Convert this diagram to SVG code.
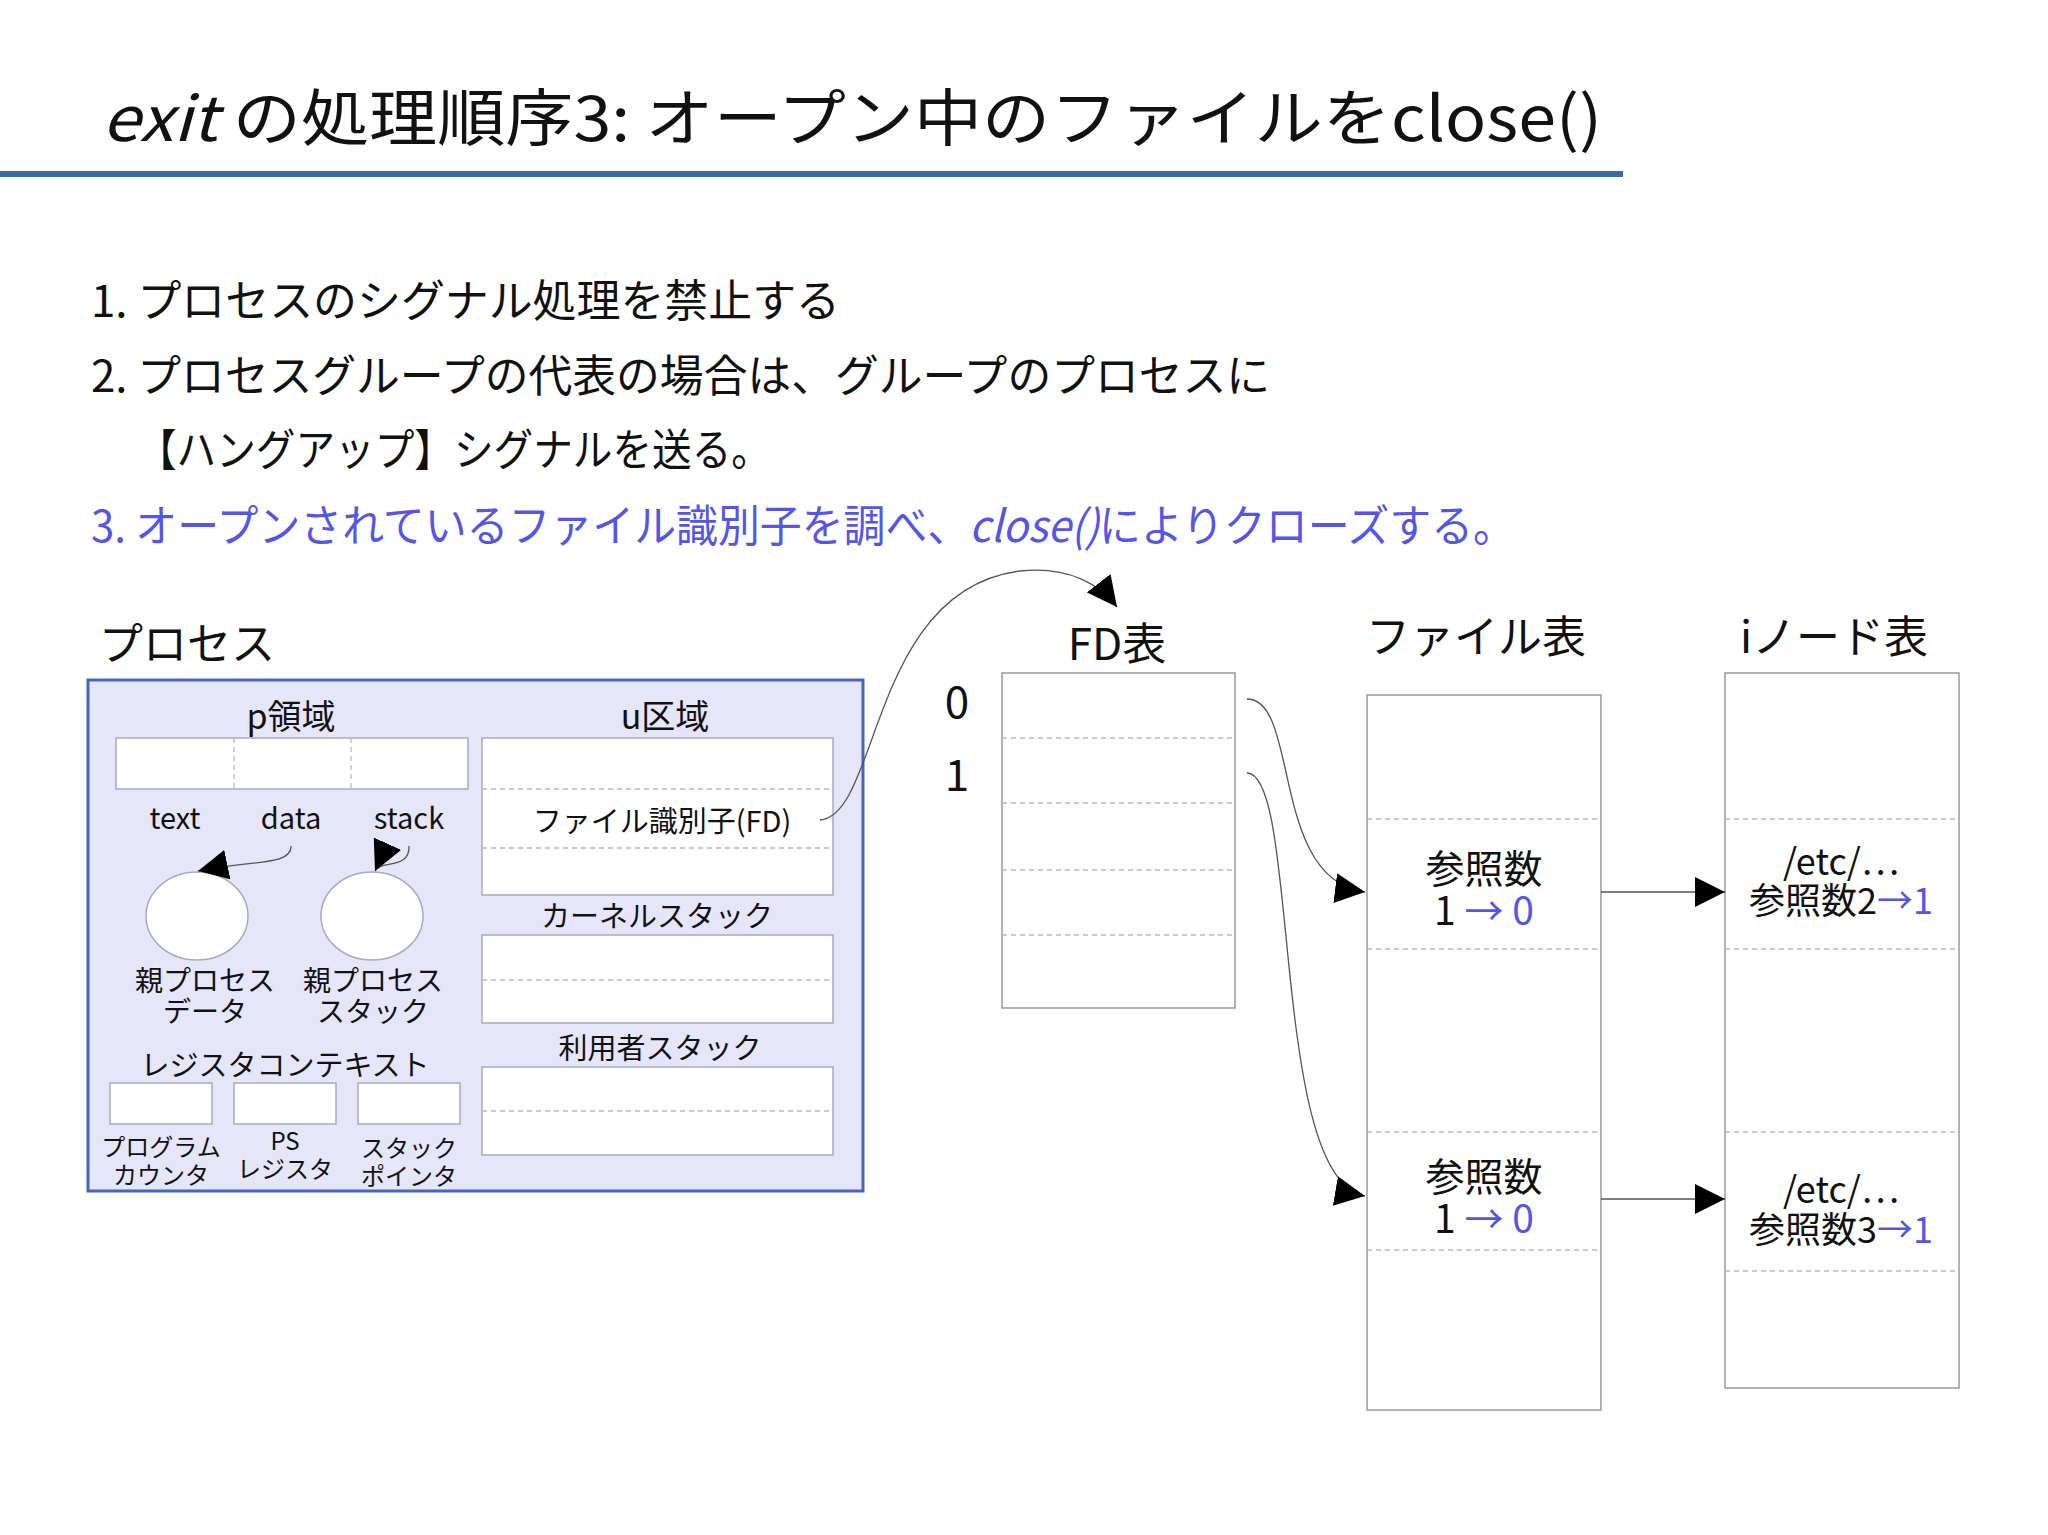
<svg xmlns="http://www.w3.org/2000/svg" width="2048" height="1535" viewBox="0 0 2048 1535">
<defs>
<style>
text{font-family:"Noto Sans CJK JP","Liberation Sans",sans-serif;fill:#111}
.b{fill:#5555e8}
.cell{fill:#fff;stroke:#aab;stroke-width:1.5}
.tbl{fill:#fff;stroke:#999;stroke-width:1.5}
.dash{stroke:#bbb;stroke-width:1.3;stroke-dasharray:5 4;fill:none}
.con{fill:none;stroke:#555;stroke-width:1.3}
.m{text-anchor:middle}
</style>
<marker id="ah" viewBox="0 0 10 10" refX="10" refY="5" markerWidth="30" markerHeight="30" markerUnits="userSpaceOnUse" orient="auto"><path d="M0,0 L10,5 L0,10 z" fill="#000"/></marker>
</defs>
<rect width="2048" height="1535" fill="#fff"/>
<g id="title">
<text x="102" y="141" font-size="62" textLength="1500" lengthAdjust="spacingAndGlyphs"><tspan font-style="italic">exit</tspan> の処理順序3: オープン中のファイルをclose()</text>
<rect x="0" y="171" width="1623" height="6" fill="#3d6aa6"/>
</g>
<g id="list" font-size="44">
<text x="91" y="317" font-size="44" textLength="749" lengthAdjust="spacingAndGlyphs">1. プロセスのシグナル処理を禁止する</text>
<text x="91" y="392" font-size="44" textLength="1179" lengthAdjust="spacingAndGlyphs">2. プロセスグループの代表の場合は、グループのプロセスに</text>
<text x="137" y="466" font-size="44" textLength="634" lengthAdjust="spacingAndGlyphs">【ハングアップ】シグナルを送る。</text>
<text x="91" y="542" font-size="44" class="b" textLength="1424" lengthAdjust="spacingAndGlyphs">3. オープンされているファイル識別子を調べ、<tspan font-style="italic" class="b">close()</tspan>によりクローズする。</text>
</g>
<g id="process">
<text x="99" y="660" font-size="44">プロセス</text>
<rect x="88" y="680" width="775" height="511" fill="#e6e6fa" stroke="#4466bb" stroke-width="3"/>
<text x="291" y="729" font-size="34" class="m">p領域</text>
<rect x="116" y="738" width="352" height="51" class="cell"/>
<line x1="234" y1="738" x2="234" y2="789" class="dash"/>
<line x1="351" y1="738" x2="351" y2="789" class="dash"/>
<text x="175" y="829" font-size="29" class="m">text</text>
<text x="291" y="829" font-size="29" class="m">data</text>
<text x="409" y="829" font-size="29" class="m">stack</text>
<ellipse cx="197" cy="916" rx="51" ry="44" class="cell"/>
<ellipse cx="372" cy="916" rx="51" ry="44" class="cell"/>
<text x="205" y="991" font-size="28" class="m">親プロセス</text>
<text x="205" y="1022" font-size="28" class="m">データ</text>
<text x="373" y="991" font-size="28" class="m">親プロセス</text>
<text x="373" y="1022" font-size="28" class="m">スタック</text>
<text x="285" y="1076" font-size="29" class="m">レジスタコンテキスト</text>
<rect x="110" y="1083" width="102" height="41" class="cell"/>
<rect x="234" y="1083" width="102" height="41" class="cell"/>
<rect x="358" y="1083" width="102" height="41" class="cell"/>
<text x="161" y="1156" font-size="24" class="m">プログラム</text>
<text x="161" y="1184" font-size="24" class="m">カウンタ</text>
<text x="285" y="1150" font-size="24" class="m">PS</text>
<text x="285" y="1178" font-size="24" class="m">レジスタ</text>
<text x="409" y="1157" font-size="24" class="m">スタック</text>
<text x="409" y="1185" font-size="24" class="m">ポインタ</text>
<text x="665" y="729" font-size="34" class="m">u区域</text>
<rect x="482" y="738" width="351" height="157" class="cell"/>
<line x1="482" y1="789" x2="833" y2="789" class="dash"/>
<line x1="482" y1="848" x2="833" y2="848" class="dash"/>
<text x="662" y="832" font-size="29" class="m">ファイル識別子(FD)</text>
<text x="657" y="927" font-size="29" class="m">カーネルスタック</text>
<rect x="482" y="935" width="351" height="88" class="cell"/>
<line x1="482" y1="980" x2="833" y2="980" class="dash"/>
<text x="660" y="1059" font-size="29" class="m">利用者スタック</text>
<rect x="482" y="1067" width="351" height="88" class="cell"/>
<line x1="482" y1="1111" x2="833" y2="1111" class="dash"/>
</g>
<g id="fdtable">
<text x="1117" y="660" font-size="44" class="m">FD表</text>
<text x="957" y="718" font-size="44" class="m">0</text>
<text x="957" y="791" font-size="44" class="m">1</text>
<rect x="1002" y="673" width="233" height="335" class="tbl"/>
<line x1="1002" y1="738" x2="1235" y2="738" class="dash"/>
<line x1="1002" y1="803" x2="1235" y2="803" class="dash"/>
<line x1="1002" y1="870" x2="1235" y2="870" class="dash"/>
<line x1="1002" y1="935" x2="1235" y2="935" class="dash"/>
</g>
<g id="filetable">
<text x="1476" y="653" font-size="44" class="m">ファイル表</text>
<rect x="1367" y="695" width="234" height="715" class="tbl"/>
<line x1="1367" y1="819" x2="1601" y2="819" class="dash"/>
<line x1="1367" y1="949" x2="1601" y2="949" class="dash"/>
<line x1="1367" y1="1132" x2="1601" y2="1132" class="dash"/>
<line x1="1367" y1="1250" x2="1601" y2="1250" class="dash"/>
<text x="1484" y="883" font-size="39" class="m">参照数</text>
<text x="1484" y="925" font-size="39" class="m">1 <tspan class="b">→ 0</tspan></text>
<text x="1484" y="1191" font-size="39" class="m">参照数</text>
<text x="1484" y="1233" font-size="39" class="m">1 <tspan class="b">→ 0</tspan></text>
</g>
<g id="inodetable">
<text x="1834" y="653" font-size="44" class="m">iノード表</text>
<rect x="1725" y="673" width="234" height="715" class="tbl"/>
<line x1="1725" y1="819" x2="1959" y2="819" class="dash"/>
<line x1="1725" y1="949" x2="1959" y2="949" class="dash"/>
<line x1="1725" y1="1132" x2="1959" y2="1132" class="dash"/>
<line x1="1725" y1="1271" x2="1959" y2="1271" class="dash"/>
<text x="1841" y="875" font-size="36" class="m">/etc/…</text>
<text x="1841" y="914" font-size="36" class="m">参照数2<tspan class="b">→1</tspan></text>
<text x="1841" y="1203" font-size="36" class="m">/etc/…</text>
<text x="1841" y="1243" font-size="36" class="m">参照数3<tspan class="b">→1</tspan></text>
</g>
<g id="connectors">
<path class="con" d="M291,846 C292,866 250,860 198,871" marker-end="url(#ah)"/>
<path class="con" d="M409,846 C410,870 380,860 375,871" marker-end="url(#ah)"/>
<path class="con" d="M820,820 C880,815 870,590 1020,571 C1070,566 1100,585 1117,607" marker-end="url(#ah)"/>
<path class="con" d="M1247,699 C1300,699 1270,880 1365,892" marker-end="url(#ah)"/>
<path class="con" d="M1247,773 C1300,773 1270,1180 1365,1196" marker-end="url(#ah)"/>
<line class="con" x1="1601" y1="892" x2="1725" y2="892" marker-end="url(#ah)"/>
<line class="con" x1="1601" y1="1199" x2="1725" y2="1199" marker-end="url(#ah)"/>
</g>
</svg>
